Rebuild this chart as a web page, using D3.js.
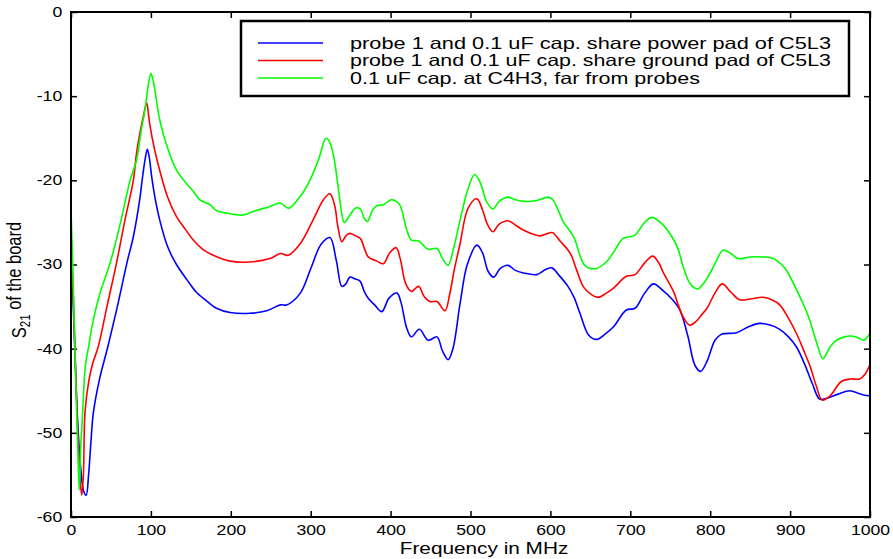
<!DOCTYPE html>
<html>
<head>
<meta charset="utf-8">
<script src="https://cdn.jsdelivr.net/npm/d3@7"></script>
<style>
  body { margin: 0; background: #fff; }
  text { font-family: "Liberation Sans", Arial, Helvetica, sans-serif; fill: #000; }
</style>
</head>
<body>
<div id="canvas"></div>
<script>
"use strict";

// S21 of the board vs frequency, three capacitor placements
// [frequency MHz, dB]
let powerPad = [
  [0, -27], [4, -38], [8, -48], [12, -54], [16, -57], [19, -57.4], [22, -55], [25, -51],
  [28, -47.6], [36, -43.5], [46, -39.8], [58, -35], [70, -29.8], [78, -26.7], [86, -22.3],
  [89, -20], [92.6, -17.6], [95.5, -16.3], [98, -17.3], [101, -19.6], [105, -22], [111, -24.7],
  [121, -27.9], [132, -30], [145, -31.8], [156, -33.2], [168, -34.2], [182, -35.2], [199, -35.7],
  [224, -35.8], [245, -35.5], [262, -34.8], [270, -34.8], [287, -33.4], [300, -30.5], [313, -27.6],
  [324, -26.8], [332, -29.5], [339, -32.6], [344, -32.3], [349, -31.5], [355, -31.7], [362, -32.0],
  [367, -33.2], [372, -34.0], [380, -34.8], [389, -35.6], [398, -34], [408, -33.4], [413, -34.5],
  [420, -37.5], [426, -38.6], [436, -37.7], [447, -39], [458, -38.6], [465, -40.3], [472, -41.3],
  [478, -40], [487, -34.6], [496, -30], [508, -27.7], [515, -28.6], [522, -30.8], [529, -31.5],
  [537, -30.5], [547, -30.1], [556, -30.7], [566, -31.0], [583, -31.2], [594, -30.6], [602, -30.4],
  [610, -31.2], [622, -32.6], [630, -34], [637, -35.8], [648, -38.4], [658, -38.9], [668, -38.3],
  [679, -37.4], [695, -35.4], [706, -35.2], [718, -33.4], [729, -32.3], [741, -33.1], [752, -34.1],
  [762, -35.4], [772, -38.5], [781, -42], [788, -42.7], [796, -41.5], [806, -39], [814, -38.3],
  [833, -38.1], [848, -37.4], [862, -37.0], [875, -37.2], [887, -37.7], [898, -38.6], [908, -39.8],
  [918, -41.8], [928, -44.2], [937, -46.0], [946, -45.9], [960, -45.4], [975, -45.0], [985, -45.3],
  [992, -45.5], [1000, -45.6]
];

let groundPad = [
  [0, -26], [4, -37], [8, -49], [11, -55], [13.4, -57.4], [15.5, -55], [17.5, -47.6], [22, -44],
  [27, -41.8], [34, -39.8], [45, -35], [57, -29.8], [68, -24.5], [78, -20], [82, -16.8], [87, -14],
  [90.5, -12.4], [94.7, -10.8], [97, -12.2], [99, -13.6], [105, -16.5], [111, -18.8], [121, -22],
  [132, -24.3], [143, -25.8], [153, -27.1], [165, -28.2], [178, -28.9], [199, -29.6], [224, -29.7],
  [249, -29.3], [262, -28.7], [272, -28.9], [287, -27.5], [303, -24.7], [316, -22.3], [324, -21.6],
  [330, -23], [334, -25.5], [339, -27.3], [344, -26.6], [349, -26.3], [356, -26.6], [362, -26.9],
  [368, -28.3], [372, -29.1], [383, -29.6], [391, -29.9], [399, -28.6], [407, -28.0], [412, -29.3],
  [419, -32.3], [426, -33.2], [435, -32.6], [442, -33.8], [449, -34.4], [458, -34.4], [468, -35.5],
  [474, -33.5], [480, -30.5], [487, -27.5], [497, -23.3], [508, -22.2], [515, -23.5], [521, -25.2],
  [528, -26.1], [536, -25.2], [547, -24.8], [556, -25.3], [568, -26.0], [587, -26.6], [602, -26.2],
  [612, -27.2], [625, -28.7], [633, -30.7], [641, -32.6], [650, -33.5], [660, -33.9], [670, -33.4],
  [679, -32.8], [695, -31.4], [706, -31.2], [718, -29.8], [728, -29.0], [735, -29.7], [741, -30.9],
  [754, -33.2], [760, -34.8], [766, -36.2], [774, -37.2], [782, -36.8], [789, -36.0], [796, -35.2],
  [806, -33.4], [815, -32.3], [826, -33.3], [837, -34.2], [850, -34.1], [866, -33.9], [877, -34.2],
  [887, -34.8], [898, -36.4], [908, -38.2], [917, -40.2], [925, -42.1], [933, -44.5], [940, -46.1],
  [950, -45.6], [964, -43.9], [975, -43.6], [987, -43.6], [994, -43.0], [1000, -41.9]
];

let farCap = [
  [0, -23.3], [3, -33], [6, -44], [8.5, -52], [10.4, -56.8], [12, -52], [14.6, -47.6], [18, -42],
  [22, -39.8], [26, -37.5], [36, -33.5], [49, -29.8], [62, -25], [74, -20], [82, -17.6], [88, -14],
  [92.6, -11.6], [97, -8.5], [100, -7.3], [102, -7.8], [105, -9.3], [111, -12.8], [121, -16.2],
  [132, -18.8], [141, -20], [153, -21.3], [161, -22.3], [174, -22.9], [182, -23.6], [195, -23.9],
  [216, -24.1], [228, -23.7], [249, -23.1], [262, -22.7], [268, -23.1], [273, -23.3], [287, -21.9],
  [299, -20.0], [310, -17.5], [319, -15.0], [323, -15.3], [328, -16.8], [334, -20.5], [339, -24],
  [342, -25.0], [350, -24], [356, -23.3], [362, -23.4], [367, -24.5], [371, -24.9], [377, -23.6],
  [383, -23.0], [391, -22.9], [401, -22.3], [407, -22.5], [412, -23.0], [420, -25.8], [426, -27.1],
  [435, -27.2], [447, -28.2], [458, -28.1], [465, -29.3], [472, -30.1], [479, -28], [487, -24.7],
  [496, -21.3], [505, -19.3], [512, -20.2], [520, -22.5], [528, -23.4], [536, -22.5], [547, -22.0],
  [556, -22.3], [568, -22.5], [583, -22.4], [597, -22.0], [603, -22.3], [610, -23.6], [616, -24.9],
  [629, -26.7], [643, -30.1], [656, -30.5], [670, -29.7], [680, -28.4], [691, -26.9], [706, -26.5],
  [717, -25.1], [727, -24.4], [740, -25.2], [752, -26.7], [760, -28.2], [766, -30.2], [775, -32.3],
  [784, -32.9], [792, -32.2], [800, -31.0], [808, -29.5], [816, -28.3], [826, -28.7], [835, -29.3],
  [850, -29.1], [866, -29.1], [876, -29.2], [883, -29.5], [894, -30.5], [904, -32.2], [914, -34.2],
  [923, -36.2], [933, -39.2], [941, -41.2], [950, -39.8], [958, -39.0], [968, -38.6], [977, -38.5],
  [985, -38.7], [992, -39.0], [1000, -38.2]
];

let seriesNames = [
  "probe 1 and 0.1 uF cap. share power pad of C5L3",
  "probe 1 and 0.1 uF cap. share ground pad of C5L3",
  "0.1 uF cap. at C4H3, far from probes"
];
let seriesColors = ["#0000ff", "#ff0000", "#00ff00"];
let xTicks = [0, 100, 200, 300, 400, 500, 600, 700, 800, 900, 1000];
let yTicks = [0, -10, -20, -30, -40, -50, -60];

// the original figure is stretched sideways, so text is widened a bit
let stretch = "scale(1.26,1)";
let plainNumber = d => String(d);

let width = 893;
let height = 559;
let plotLeft = 71, plotRight = 870, plotTop = 12, plotBottom = 517;

let svg = d3.select("#canvas")
  .append("svg")
  .attr("width", width)
  .attr("height", height);

let xScale = d3.scaleLinear().domain([0, 1000]).range([plotLeft, plotRight]);
let yScale = d3.scaleLinear().domain([-60, 0]).range([plotBottom, plotTop]);

// axes, ticks pointing inward
function styleAxis(g) {
  g.select(".domain").remove();
  g.selectAll("line").attr("stroke", "#000").attr("stroke-width", 1.5);
  g.selectAll("text").style("font-size", "14px").attr("fill", "#000");
}

svg.append("g")
  .attr("transform", `translate(0, ${plotBottom})`)
  .call(d3.axisBottom(xScale).tickValues(xTicks).tickFormat(plainNumber)
    .tickSizeInner(-6).tickSizeOuter(0).tickPadding(8))
  .call(styleAxis)
  .selectAll("text").attr("transform", stretch);

svg.append("g")
  .attr("transform", `translate(0, ${plotTop})`)
  .call(d3.axisTop(xScale).tickValues(xTicks).tickSizeInner(-6).tickSizeOuter(0).tickFormat(""))
  .call(styleAxis);

svg.append("g")
  .attr("transform", `translate(${plotLeft}, 0)`)
  .call(d3.axisLeft(yScale).tickValues(yTicks).tickFormat(plainNumber)
    .tickSizeInner(-6).tickSizeOuter(0).tickPadding(7))
  .call(styleAxis)
  .selectAll("text").attr("transform", stretch);

svg.append("g")
  .attr("transform", `translate(${plotRight}, 0)`)
  .call(d3.axisRight(yScale).tickValues(yTicks).tickSizeInner(-6).tickSizeOuter(0).tickFormat(""))
  .call(styleAxis);

// curves
let line = d3.line()
  .x(d => xScale(d[0]))
  .y(d => yScale(d[1]))
  .curve(d3.curveCatmullRom.alpha(0.5));

[powerPad, groundPad, farCap].forEach((s, i) => {
  svg.append("path")
    .datum(s)
    .attr("fill", "none")
    .attr("stroke", seriesColors[i])
    .attr("stroke-width", 1.6)
    .attr("d", line);
});

// frame
svg.append("rect")
  .attr("x", plotLeft).attr("y", plotTop)
  .attr("width", plotRight - plotLeft).attr("height", plotBottom - plotTop)
  .attr("fill", "none")
  .attr("stroke", "#000")
  .attr("stroke-width", 2);

// legend
let legend = svg.append("g");
legend.append("rect")
  .attr("x", 241).attr("y", 21)
  .attr("width", 608).attr("height", 75)
  .attr("fill", "#fff")
  .attr("stroke", "#000")
  .attr("stroke-width", 2.5);

let legendWidths = [481, 481, 350];
seriesNames.forEach((name, i) => {
  let y = 43 + i * 17.5;
  legend.append("line")
    .attr("x1", 258).attr("x2", 323)
    .attr("y1", y).attr("y2", y)
    .attr("stroke", seriesColors[i])
    .attr("stroke-width", 1.6);
  legend.append("text")
    .attr("x", 350).attr("y", y)
    .attr("dy", "0.36em")
    .attr("textLength", legendWidths[i])
    .attr("lengthAdjust", "spacingAndGlyphs")
    .style("font-size", "16.5px")
    .text(name);
});

// axis titles
svg.append("text")
  .attr("transform", `translate(484, 554) ${stretch}`)
  .attr("text-anchor", "middle")
  .style("font-size", "16.5px")
  .text("Frequency in MHz");

let yLabel = svg.append("text")
  .attr("transform", `translate(26, 280) ${stretch} rotate(-90)`)
  .attr("text-anchor", "middle")
  .style("font-size", "16.5px");
yLabel.append("tspan").text("S");
yLabel.append("tspan").attr("dy", "0.3em").style("font-size", "11.5px").text("21");
yLabel.append("tspan").attr("dy", "-0.45em").text(" of the board");
</script>
</body>
</html>
